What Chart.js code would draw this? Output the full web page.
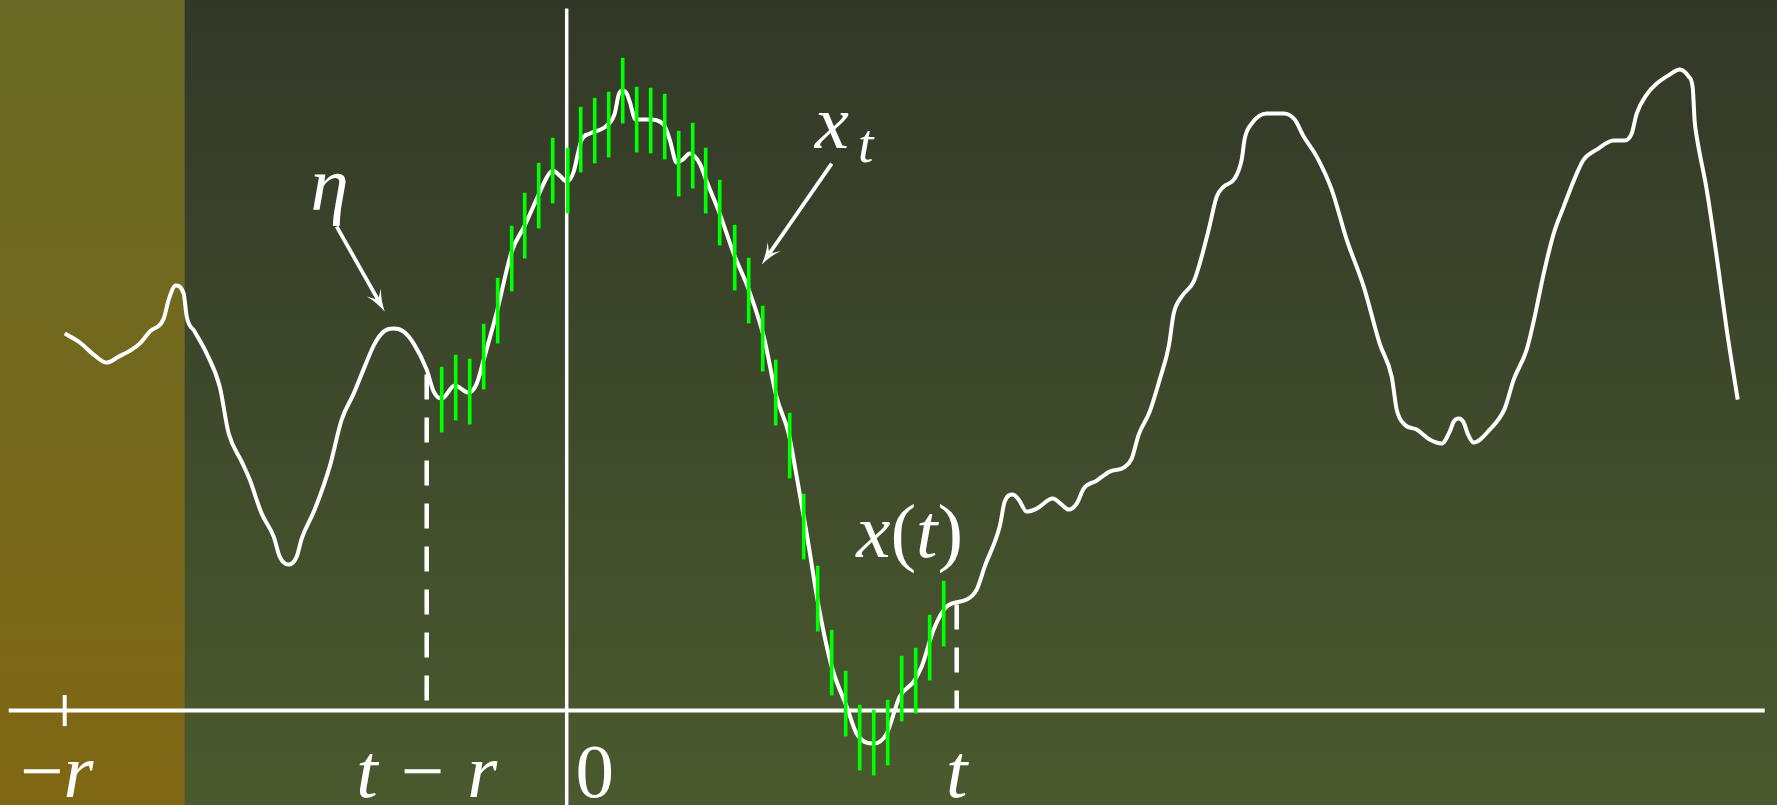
<!DOCTYPE html>
<html>
<head>
<meta charset="utf-8">
<script src="https://cdn.jsdelivr.net/npm/chart.js@4.4.1/dist/chart.umd.min.js"></script>
<style>
  html, body { margin: 0; padding: 0; overflow: hidden; background: #3e492b; }
  #wrap { width: 1777px; height: 805px; }
</style>
</head>
<body>
<div id="wrap"><canvas id="js-chart-window" width="1777" height="805"></canvas></div>
<script>
// Signal x(.) (time 0 at the vertical axis)
const curveT = [-5.02,-4.88,-4.73,-4.60,-4.48,-4.35,-4.27,-4.17,-4.03,-3.98,
  -3.91,-3.83,-3.80,-3.72,-3.60,-3.47,-3.38,-3.25,-3.17,-3.05,
  -2.93,-2.87,-2.78,-2.70,-2.65,-2.52,-2.37,-2.25,-2.13,-2.02,
  -1.92,-1.83,-1.73,-1.63,-1.53,-1.40,-1.33,-1.25,-1.12,-0.98,
  -0.90,-0.83,-0.70,-0.55,-0.42,-0.28,-0.20,-0.14,-0.07,0,
  0.07,0.11,0.15,0.23,0.40,0.48,0.52,0.56,0.60,0.63,
  0.69,0.83,0.97,1.03,1.10,1.16,1.23,1.33,1.40,1.53,
  1.67,1.82,1.97,2.10,2.22,2.30,2.40,2.52,2.65,2.80,
  2.90,3.07,3.20,3.33,3.47,3.55,3.67,3.80,4.00,4.10,
  4.18,4.33,4.38,4.46,4.52,4.60,4.70,4.86,4.95,5.02,
  5.10,5.17,5.30,5.43,5.57,5.65,5.72,5.83,5.93,6.02,
  6.07,6.15,6.27,6.33,6.42,6.50,6.57,6.68,6.75,6.78,
  6.85,7.00,7.17,7.28,7.37,7.50,7.65,7.80,7.97,8.13,
  8.25,8.30,8.38,8.50,8.63,8.75,8.83,8.87,8.92,8.97,
  9.01,9.07,9.23,9.38,9.47,9.60,9.68,9.77,9.87,9.97,
  10.10,10.17,10.30,10.47,10.58,10.65,10.70,10.80,10.90,11.03,
  11.13,11.22,11.26,11.28,11.30,11.40,11.50,11.60,11.71];
const curveX = [3.77,3.69,3.56,3.48,3.54,3.61,3.67,3.79,3.92,4.11,
  4.25,4.17,3.94,3.79,3.57,3.24,2.77,2.49,2.31,1.97,
  1.74,1.54,1.46,1.54,1.72,2.01,2.44,2.91,3.17,3.44,
  3.67,3.79,3.82,3.79,3.67,3.41,3.19,3.12,3.25,3.18,
  3.27,3.51,3.98,4.59,4.85,5.16,5.33,5.40,5.35,5.29,
  5.39,5.56,5.71,5.77,5.85,5.97,6.16,6.20,6.17,6.09,
  5.91,5.91,5.86,5.71,5.48,5.51,5.57,5.47,5.29,4.97,
  4.57,4.21,3.74,3.13,2.77,2.34,1.77,1.04,0.44,0.04,
  -0.23,-0.33,-0.23,0.14,0.29,0.44,0.81,1.04,1.11,1.21,
  1.44,1.84,2.09,2.16,2.11,1.99,2.02,2.12,2.06,2.01,
  2.07,2.22,2.30,2.39,2.43,2.52,2.76,2.99,3.31,3.64,
  3.97,4.14,4.29,4.47,4.81,5.14,5.24,5.32,5.51,5.72,
  5.87,5.97,5.97,5.91,5.74,5.54,5.21,4.71,4.24,3.67,
  3.34,3.01,2.86,2.81,2.71,2.67,2.79,2.89,2.92,2.88,
  2.77,2.68,2.81,3.02,3.31,3.61,3.94,4.37,4.77,5.04,
  5.37,5.51,5.61,5.70,5.70,5.77,5.97,6.16,6.27,6.36,
  6.41,6.34,6.23,5.89,5.74,5.21,4.54,3.81,3.11];

// Noisy samples x_t inside the window [t - r, t]
const sampleT = [-1.25,-1.11,-0.97,-0.83,-0.69,-0.55,-0.42,-0.28,-0.14,0.01,
  0.14,0.28,0.42,0.56,0.70,0.84,0.98,1.12,1.26,1.39,
  1.53,1.68,1.82,1.96,2.09,2.23,2.37,2.51,2.65,2.79,
  2.93,3.07,3.21,3.35,3.49,3.63,3.77];
const sampleX = [3.11,3.23,3.19,3.54,4.00,4.52,4.85,5.15,5.40,5.30,
  5.71,5.80,5.86,6.20,5.91,5.90,5.84,5.47,5.55,5.30,
  4.98,4.53,4.20,3.72,3.18,2.65,1.84,1.12,0.48,0.07,
  -0.27,-0.32,-0.22,0.22,0.30,0.63,0.97];
const sampleErr = 0.325;

// Time axis marks
const tickT = [-5.02, -1.40, 0, 3.90];
const tickLabels = ['−r', 't − r', '0', 't'];

// Window edges t - r and t, dashed up to the signal
const windowT = [-1.40, 3.90];
const windowX = [3.36, 1.06];

// Shaded past region ends here
const shadeEnd = -3.82;

// Annotations: text and arrows, in data units
const noteText = ['η', 'x_t', 'x(t)'];
const noteT = [-2.37, 2.48, 3.43];
const noteX = [5.01, 5.63, 1.54];
const noteAlign = ['center', 'left', 'center'];
const arrowFrom = [[-2.30, 4.84], [2.65, 5.47]];
const arrowTo = [[-1.82, 3.99], [1.95, 4.46]];

const MATH_SIZE = 77;

function mathRuns(str, size) {
  const runs = [];
  let sub = false;
  for (const ch of str) {
    if (ch === '_') { sub = true; runs.push({gap: size * 0.12}); continue; }
    if (ch === ' ') { runs.push({gap: size * 0.3}); continue; }
    const sz = sub ? size * 0.72 : size;
    runs.push({s: ch, size: sz, italic: /[a-zα-ω]/.test(ch), dy: sub ? size * 0.19 : 0});
    sub = false;
  }
  return runs;
}

function drawMath(ctx, str, px, py, align) {
  const runs = mathRuns(str, MATH_SIZE);
  let total = 0;
  runs.forEach(r => {
    if (r.s) {
      ctx.font = (r.italic ? 'italic ' : '') + r.size + 'px "Liberation Serif", serif';
      r.w = ctx.measureText(r.s).width;
    } else {
      r.w = r.gap;
    }
    total += r.w;
  });
  let cx = align === 'center' ? px - total / 2 : px;
  runs.forEach(r => {
    if (r.s) {
      ctx.font = (r.italic ? 'italic ' : '') + r.size + 'px "Liberation Serif", serif';
      ctx.fillText(r.s, cx, py + r.dy);
    }
    cx += r.w;
  });
}

function drawArrow(ctx, x0, y0, x1, y1) {
  const dx = x1 - x0, dy = y1 - y0;
  const len = Math.hypot(dx, dy);
  const ux = dx / len, uy = dy / len, nx = -uy, ny = ux;
  const L = 22, W = 8;
  ctx.lineWidth = 3.8;
  ctx.lineCap = 'butt';
  ctx.beginPath();
  ctx.moveTo(x0, y0);
  ctx.lineTo(x1 - ux * L * 0.6, y1 - uy * L * 0.6);
  ctx.stroke();
  ctx.beginPath();
  ctx.moveTo(x1, y1);
  ctx.quadraticCurveTo(x1 - ux * L * 0.55 + nx * W * 0.3, y1 - uy * L * 0.55 + ny * W * 0.3,
    x1 - ux * L + nx * W, y1 - uy * L + ny * W);
  ctx.lineTo(x1 - ux * L * 0.6, y1 - uy * L * 0.6);
  ctx.lineTo(x1 - ux * L - nx * W, y1 - uy * L - ny * W);
  ctx.quadraticCurveTo(x1 - ux * L * 0.55 - nx * W * 0.3, y1 - uy * L * 0.55 - ny * W * 0.3, x1, y1);
  ctx.closePath();
  ctx.fill();
}

const sketchPlugin = {
  id: 'sketch',
  beforeDraw(chart) {
    const {ctx, width, height} = chart;
    const xs = chart.scales.x;
    ctx.save();
    const bg = ctx.createLinearGradient(0, 0, 0, height);
    bg.addColorStop(0, '#323828');
    bg.addColorStop(1, '#4a5a2e');
    ctx.fillStyle = bg;
    ctx.fillRect(0, 0, width, height);
    const shade = ctx.createLinearGradient(0, 0, 0, height);
    shade.addColorStop(0, '#686a25');
    shade.addColorStop(1, '#806714');
    ctx.fillStyle = shade;
    ctx.fillRect(0, 0, xs.getPixelForValue(shadeEnd), height);
    ctx.restore();
  },
  afterDatasetsDraw(chart) {
    const {ctx} = chart;
    const xs = chart.scales.x, ys = chart.scales.y;
    ctx.save();
    ctx.fillStyle = '#ffffff';
    ctx.strokeStyle = '#ffffff';
    ctx.textBaseline = 'alphabetic';
    // tick labels below the time axis
    const labelDx = [-8, 0, 28, 0];
    tickLabels.forEach((lab, i) => {
      drawMath(ctx, lab, xs.getPixelForValue(tickT[i]) + labelDx[i], ys.getPixelForValue(-0.865), 'center');
    });
    // annotations
    noteText.forEach((s, i) => {
      drawMath(ctx, s, xs.getPixelForValue(noteT[i]), ys.getPixelForValue(noteX[i]), noteAlign[i]);
    });
    arrowFrom.forEach((a, i) => {
      const b = arrowTo[i];
      drawArrow(ctx, xs.getPixelForValue(a[0]), ys.getPixelForValue(a[1]),
        xs.getPixelForValue(b[0]), ys.getPixelForValue(b[1]));
    });
    ctx.restore();
  }
};

const whiteLine = (data, width, extra) => Object.assign({
  type: 'line',
  data: data,
  borderColor: '#ffffff',
  borderWidth: width,
  pointRadius: 0,
  fill: false,
  borderCapStyle: 'butt'
}, extra || {});

const datasets = [
  {
    type: 'bar',
    label: 'samples',
    data: sampleT.map((t, i) => ({x: t, y: [sampleX[i] - sampleErr, sampleX[i] + sampleErr]})),
    backgroundColor: '#00ff00',
    borderWidth: 0,
    barThickness: 3,
    order: 0
  },
  whiteLine(curveT.map((t, i) => ({x: t, y: curveX[i]})), 4,
    {label: 'x', cubicInterpolationMode: 'monotone', borderJoinStyle: 'round', order: 1}),
  whiteLine([{x: -5.58, y: 0}, {x: 11.98, y: 0}], 4, {order: 2}),
  whiteLine([{x: 0, y: -0.95}, {x: 0, y: 7.02}], 3.5, {order: 2}),
  whiteLine([{x: tickT[0], y: -0.155}, {x: tickT[0], y: 0.155}], 4, {order: 2})
];
windowT.forEach((t, i) => {
  datasets.push(whiteLine([{x: t, y: windowX[i]}, {x: t, y: 0}], 4.5, {borderDash: [25, 18], order: 3}));
});

new Chart(document.getElementById('js-chart-window'), {
  type: 'line',
  data: {datasets: datasets},
  options: {
    responsive: false,
    devicePixelRatio: 1,
    animation: false,
    events: [],
    layout: {padding: 0},
    scales: {
      x: {type: 'linear', min: -5.667, max: 12.103, display: false, offset: false},
      y: {type: 'linear', min: -0.944, max: 7.106, display: false}
    },
    plugins: {
      legend: {display: false},
      tooltip: {enabled: false}
    }
  },
  plugins: [sketchPlugin]
});
</script>
</body>
</html>
